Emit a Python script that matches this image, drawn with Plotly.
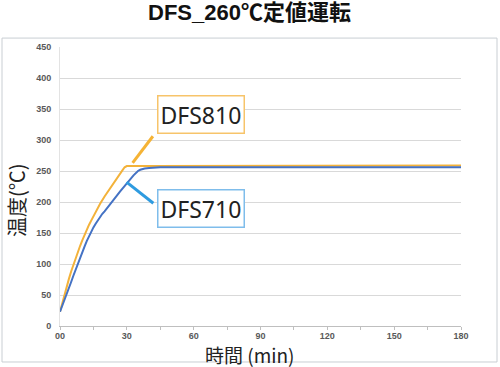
import plotly.graph_objects as go

# --- data ---
t_810 = [0, 1, 2, 3, 4, 5, 6, 7, 8, 9, 10, 11, 12, 13, 14, 15, 16, 17, 18, 20, 22, 24, 26, 28, 29, 30,
         40, 60, 90, 120, 150, 180]
v_810 = [23, 37, 50, 63, 76, 88, 99, 109, 119, 129, 138, 147, 155, 163, 170, 177, 184, 191, 197, 209, 220, 231, 241, 251, 256, 258,
         258, 258, 258, 259, 259, 259]

t_710 = [0, 1, 2, 3, 4, 5, 6, 7, 8, 9, 10, 11, 12, 13, 14, 15, 16, 17, 18, 19, 20, 21, 22, 23, 25, 27, 29, 31, 33, 35, 36, 38, 40,
         45, 60, 90, 120, 150, 180]
v_710 = [23, 32, 41, 50, 61, 71, 81, 91, 100, 110, 119, 128, 137, 145, 152, 159, 165, 171, 176, 181, 185, 190, 194, 199, 208, 217, 226, 235, 243, 250, 252, 254, 255,
         256, 256, 256, 256, 256, 256]

x_tickvals = [0, 15, 30, 45, 60, 75, 90, 105, 120, 135, 150, 165, 180]
x_ticktext = ["00", "", "30", "", "60", "", "90", "", "120", "", "150", "", "180"]
y_tickvals = [0, 50, 100, 150, 200, 250, 300, 350, 400, 450]

title_text = "DFS_260℃定値運転"
x_title = "時間 (min)"
y_title = "温度(℃)"

ORANGE = "#F3B23A"
BLUE = "#4472C4"

fig = go.Figure()
fig.add_trace(go.Scatter(x=t_810, y=v_810, mode="lines", name="DFS810",
                         line=dict(color=ORANGE, width=2)))
fig.add_trace(go.Scatter(x=t_710, y=v_710, mode="lines", name="DFS710",
                         line=dict(color=BLUE, width=2)))

fig.update_layout(
    width=500, height=367,
    margin=dict(l=60, r=39, t=47, b=41),
    paper_bgcolor="white", plot_bgcolor="white",
    showlegend=False,
    font=dict(family="Noto Sans CJK JP, Noto Sans, sans-serif", color="#222222"),
)

fig.update_xaxes(
    range=[0, 180], tickvals=x_tickvals, ticktext=x_ticktext,
    showgrid=False, showline=True, linecolor="#BFBFBF", linewidth=1,
    ticks="outside", ticklen=3, tickcolor="#BFBFBF", ticklabelstandoff=-2,
    tickfont=dict(family="Liberation Sans, Arial, sans-serif", size=9, color="#595959", weight="bold"),
    zeroline=False, fixedrange=True,
)
fig.update_yaxes(
    range=[0, 450], tickvals=y_tickvals,
    showgrid=True, gridcolor="#D9D9D9", gridwidth=1,
    showline=True, linecolor="#E3E3E3", linewidth=1,
    ticks="", ticklabelstandoff=6,
    tickfont=dict(family="Liberation Sans, Arial, sans-serif", size=9, color="#595959", weight="bold"),
    zeroline=False, fixedrange=True,
)

# outer chart border
fig.add_shape(type="rect", xref="paper", yref="paper",
              x0=-0.1446, x1=1.0898, y0=-0.129, y1=1.032,
              line=dict(color="#C9CED3", width=1), layer="below")

# title
fig.add_annotation(text=title_text, xref="paper", yref="paper",
                   x=(249 - 60) / 401, y=(326 - 12) / 279, showarrow=False,
                   xanchor="center", yanchor="middle",
                   font=dict(size=22, color="#111111", weight="bold",
                             family="Liberation Sans, Noto Sans CJK JP, sans-serif"))

# axis titles
fig.add_annotation(text=x_title, xref="paper", yref="paper",
                   x=(249.5 - 60) / 401, y=(326 - 354) / 279, showarrow=False,
                   xanchor="center", yanchor="middle", borderpad=0,
                   font=dict(size=19, color="#222222"))
fig.add_annotation(text=y_title, xref="paper", yref="paper",
                   x=(16 - 60) / 401, y=(326 - 200) / 279, showarrow=False, textangle=-90,
                   xanchor="center", yanchor="middle",
                   font=dict(size=20, color="#222222"))

# callout connector lines
fig.add_shape(type="line", x0=41.7, y0=306, x1=32.6, y1=263,
              line=dict(color="#F5B335", width=3))
fig.add_shape(type="line", x0=41.9, y0=198, x1=29.9, y1=232,
              line=dict(color="#2E9BE0", width=3))

# callout labels
fig.add_annotation(text="DFS810", x=63.1, y=341, showarrow=False,
                   xanchor="center", yanchor="middle",
                   font=dict(size=23, color="#222222", family="Noto Sans, sans-serif"),
                   bgcolor="white", bordercolor="#F7C46A", borderwidth=1.5, borderpad=2)
fig.add_annotation(text="DFS710", x=63.5, y=189, showarrow=False,
                   xanchor="center", yanchor="middle",
                   font=dict(size=23, color="#222222", family="Noto Sans, sans-serif"),
                   bgcolor="white", bordercolor="#7FBDEB", borderwidth=1.5, borderpad=2)

fig.write_html("out.html")
